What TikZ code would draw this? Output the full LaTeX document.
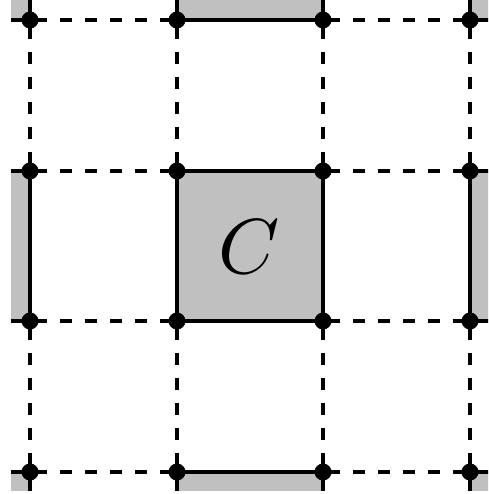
\documentclass[tikz,border=0pt]{standalone}
\usepackage{graphicx}
\usetikzlibrary{backgrounds}
\definecolor{cellgray}{RGB}{192,192,192}
\begin{document}
\begin{tikzpicture}[x=1pt,y=-1pt,
  dot/.style={circle,fill=black,inner sep=0pt,minimum size=17pt},
  edge/.style={line width=3.2pt},
  hdash/.style={edge,dash pattern=on 11.7pt off 13.3pt,dash phase=20pt},
  vdash/.style={edge,dash pattern=on 11.7pt off 13.3pt,dash phase=18.1pt},
  cell/.style={fill=cellgray}]
\useasboundingbox (0,0) rectangle (488,494);
% vertices
\foreach \x [count=\i] in {30,177,323,470}{
  \foreach \y [count=\j] in {20,171,321,472}{
    \node[dot] (v\i\j) at (\x,\y) {};
  }
}
% free ends beyond the clip
\foreach \x [count=\i] in {30,177,323,470}{
  \coordinate (t\i) at (\x,-10);
  \coordinate (b\i) at (\x,510);
}
\foreach \y [count=\j] in {20,171,321,472}{
  \coordinate (l\j) at (0,\y);
  \coordinate (r\j) at (500,\y);
}
\node[inner sep=0pt] (lab) at (249,247) {\scalebox{7.8}{$C$}};
\begin{pgfonlayer}{background}
\begin{scope}
\clip (11,0) rectangle (488,490);
% grey cells
\foreach \xa/\xb in {0/30,177/323,470/500}{
  \foreach \ya/\yb in {-10/20,171/321,472/510}{
    \fill[cell] (\xa,\ya) rectangle (\xb,\yb);
  }
}
% horizontal lines
\foreach \j in {1,2,3,4}{
  \draw[edge] (l\j) -- (v1\j.center);
  \draw[hdash] (v1\j.center) -- (v2\j.center);
  \draw[edge] (v2\j.center) -- (v3\j.center);
  \draw[hdash] (v3\j.center) -- (v4\j.center);
  \draw[edge] (v4\j.center) -- (r\j);
}
% vertical lines
\foreach \i in {1,2,3,4}{
  \draw[edge] (t\i) -- (v\i1.center);
  \draw[vdash] (v\i1.center) -- (v\i2.center);
  \draw[edge] (v\i2.center) -- (v\i3.center);
  \draw[vdash] (v\i3.center) -- (v\i4.center);
  \draw[edge] (v\i4.center) -- (b\i);
}
\end{scope}
\end{pgfonlayer}
\end{tikzpicture}
\end{document}
